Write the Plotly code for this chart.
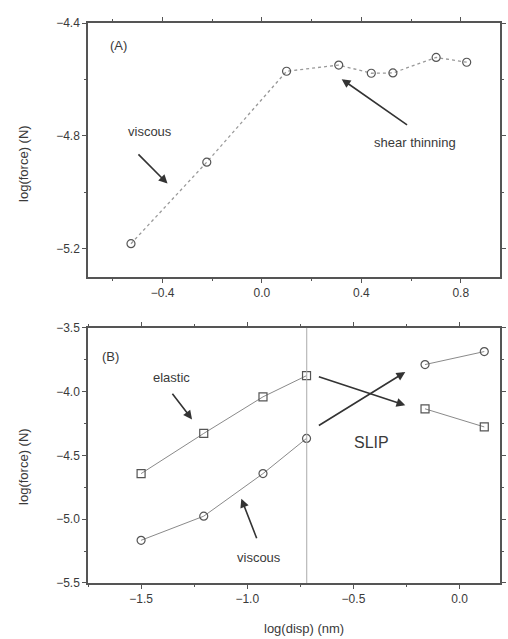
import plotly.graph_objects as go
from plotly.subplots import make_subplots

# Panel A data
a_x = [-0.527, -0.222, 0.099, 0.309, 0.44, 0.527, 0.701, 0.824]
a_y = [-5.182, -4.893, -4.571, -4.549, -4.578, -4.577, -4.522, -4.539]

# Panel B data (two segments: before slip, after slip)
b_x_pre = [-1.5, -1.205, -0.926, -0.721]
b_x_post = [-0.163, 0.116]
b_elastic_pre = [-4.642, -4.327, -4.04, -3.874]
b_elastic_post = [-4.134, -4.276]
b_viscous_pre = [-5.165, -4.976, -4.642, -4.366]
b_viscous_post = [-3.787, -3.685]
slip_x = -0.72

TXT = "#3a3a3a"
AX = "#555555"
FONT = "Liberation Sans, Arial, sans-serif"

fig = make_subplots(rows=2, cols=1, vertical_spacing=0.0)

mk_c = dict(symbol="circle-open", size=8, color="#555555", line=dict(width=1.2))
mk_s = dict(symbol="square-open", size=8, color="#555555", line=dict(width=1.2))

fig.add_trace(go.Scatter(x=a_x, y=a_y, mode="lines+markers",
                         line=dict(color="#999999", width=1.3, dash="dot"),
                         marker=mk_c, showlegend=False), row=1, col=1)

for xs, ys, mk in [(b_x_pre, b_elastic_pre, mk_s), (b_x_post, b_elastic_post, mk_s),
                   (b_x_pre, b_viscous_pre, mk_c), (b_x_post, b_viscous_post, mk_c)]:
    fig.add_trace(go.Scatter(x=xs, y=ys, mode="lines+markers",
                             line=dict(color="#8a8a8a", width=1),
                             marker=mk, showlegend=False), row=2, col=1)

axcommon = dict(showgrid=False, zeroline=False, showline=True, linecolor=AX, linewidth=1.5,
                mirror="ticks", ticks="outside", ticklen=4, tickcolor=AX, tickwidth=1,
                tickfont=dict(family=FONT, size=12, color=TXT))

fig.update_xaxes(range=[-0.7, 0.958], dtick=0.4, tick0=0, tickformat=".1f",
                 minor=dict(dtick=0.2, tick0=0, ticks="outside", ticklen=2, tickcolor=AX),
                 domain=[0, 1], row=1, col=1, **axcommon)
fig.update_yaxes(range=[-5.3, -4.4], dtick=0.4, tick0=-4.4, tickformat=".1f",
                 minor=dict(dtick=0.2, tick0=-4.4, ticks="outside", ticklen=2, tickcolor=AX),
                 domain=[0.5464, 1], row=1, col=1, **axcommon)
fig.update_xaxes(range=[-1.75, 0.19], dtick=0.5, tick0=0, tickformat=".1f",
                 minor=dict(dtick=0.25, tick0=0, ticks="outside", ticklen=2, tickcolor=AX),
                 row=2, col=1, **axcommon)
fig.update_yaxes(range=[-5.5, -3.5], dtick=0.5, tick0=-3.5, tickformat=".1f",
                 minor=dict(dtick=0.25, tick0=-3.5, ticks="outside", ticklen=2, tickcolor=AX),
                 domain=[0, 0.4554], row=2, col=1, **axcommon)

fig.add_shape(type="line", x0=slip_x, x1=slip_x, y0=0, y1=1, xref="x2", yref="y2 domain",
              line=dict(color="#aaaaaa", width=1))

def txt(x, y, s, xr, yr, size=13):
    fig.add_annotation(x=x, y=y, xref=xr, yref=yr, text=s, showarrow=False,
                       font=dict(family=FONT, size=size, color=TXT))

def arr(tx, ty, hx, hy, xr, yr):
    fig.add_annotation(x=hx, y=hy, ax=tx, ay=ty, xref=xr, yref=yr, axref=xr, ayref=yr,
                       text="", showarrow=True, arrowhead=2, arrowsize=1.1, arrowwidth=1.6,
                       arrowcolor="#333333")

# Panel A annotations
txt(-0.578, -4.479, "(A)", "x", "y")
txt(-0.451, -4.786, "viscous", "x", "y")
arr(-0.503, -4.860, -0.380, -4.969, "x", "y")
txt(0.614, -4.825, "shear thinning", "x", "y")
arr(0.590, -4.765, 0.321, -4.599, "x", "y")

# Panel B annotations
txt(-1.642, -3.720, "(B)", "x2", "y2")
txt(-1.358, -3.886, "elastic", "x2", "y2")
arr(-1.358, -4.004, -1.260, -4.217, "x2", "y2")
txt(-0.944, -5.303, "viscous", "x2", "y2")
arr(-0.953, -5.161, -1.028, -4.839, "x2", "y2")
arr(-0.670, -3.878, -0.256, -4.106, "x2", "y2")
arr(-0.670, -4.272, -0.256, -3.846, "x2", "y2")
txt(-0.414, -4.398, "SLIP", "x2", "y2", size=16)

# Axis titles as annotations (paper coords)
W, H = 508, 639
L, R, T, B = 88, 2, 23, 56
pw, ph = W - L - R, H - T - B
def px(x):
    return (x - L) / pw
def py(y):
    return (H - B - y) / ph

for yc in (163, 466):
    fig.add_annotation(x=px(22), y=py(yc), xref="paper", yref="paper", text="log(force) (N)",
                       textangle=-90, showarrow=False, xanchor="center", yanchor="middle",
                       font=dict(family=FONT, size=13, color=TXT))
fig.add_annotation(x=px(307), y=py(628), xref="paper", yref="paper", text="log(disp) (nm)",
                   showarrow=False, xanchor="center", yanchor="middle",
                   font=dict(family=FONT, size=13, color=TXT))

fig.update_layout(width=W, height=H, margin=dict(l=L, r=R, t=T, b=B),
                  plot_bgcolor="white", paper_bgcolor="white", showlegend=False)

fig.write_html("out.html", config={"displayModeBar": False},
               post_script="document.body.style.margin='0';document.body.style.overflow='hidden';")
